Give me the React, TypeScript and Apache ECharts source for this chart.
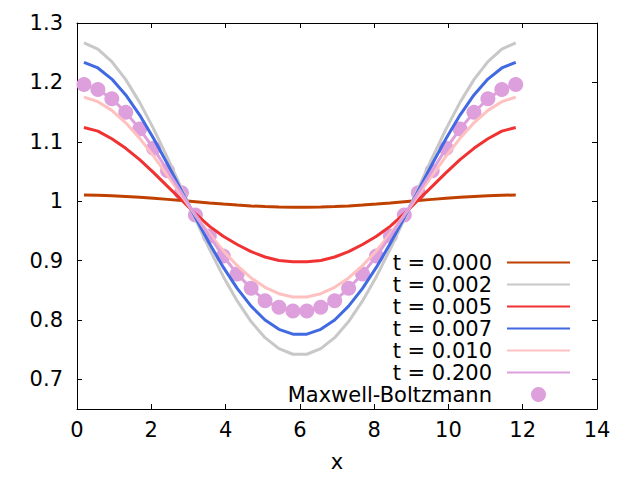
import React, { useEffect, useRef } from "react";
import * as echarts from "echarts";

// x positions of the samples
const xs = [
  0.1875, 0.5625, 0.9375, 1.3125, 1.6875, 2.0625, 2.4375, 2.8125,
  3.1875, 3.5625, 3.9375, 4.3125, 4.6875, 5.0625, 5.4375, 5.8125,
  6.1875, 6.5625, 6.9375, 7.3125, 7.6875, 8.0625, 8.4375, 8.8125,
  9.1875, 9.5625, 9.9375, 10.3125, 10.6875, 11.0625, 11.4375, 11.8125,
];

const t000 = [
  1.0103, 1.01, 1.0092, 1.008, 1.0066, 1.0049, 1.003, 1.001,
  0.999, 0.997, 0.9951, 0.9934, 0.992, 0.9908, 0.99, 0.9897,
  0.9897, 0.99, 0.9908, 0.992, 0.9934, 0.9951, 0.997, 0.999,
  1.001, 1.003, 1.0049, 1.0066, 1.008, 1.0092, 1.01, 1.0103,
];
const t002 = [
  1.2666, 1.2559, 1.2349, 1.2046, 1.1663, 1.1217, 1.0728, 1.0214,
  0.9698, 0.9198, 0.8733, 0.832, 0.7972, 0.7701, 0.7516, 0.7422,
  0.7422, 0.7516, 0.7701, 0.7972, 0.832, 0.8733, 0.9198, 0.9698,
  1.0214, 1.0728, 1.1217, 1.1663, 1.2046, 1.2349, 1.2559, 1.2666,
];
const t005 = [
  1.124, 1.118, 1.105, 1.089, 1.07, 1.048, 1.025, 1.002,
  0.979, 0.958, 0.941, 0.927, 0.915, 0.906, 0.9, 0.898,
  0.898, 0.9, 0.906, 0.915, 0.927, 0.941, 0.958, 0.979,
  1.002, 1.025, 1.048, 1.07, 1.089, 1.105, 1.118, 1.124,
];
const t007 = [
  1.2338, 1.2243, 1.2056, 1.1788, 1.1449, 1.1056, 1.0626, 1.0176,
  0.9726, 0.9291, 0.8888, 0.8531, 0.8232, 0.7999, 0.7841, 0.776,
  0.776, 0.7841, 0.7999, 0.8232, 0.8531, 0.8888, 0.9291, 0.9726,
  1.0176, 1.0626, 1.1056, 1.1449, 1.1788, 1.2056, 1.2243, 1.2338,
];
const t010 = [
  1.1751, 1.1675, 1.1529, 1.132, 1.1058, 1.0758, 1.0432, 1.0097,
  0.9766, 0.9451, 0.9164, 0.8914, 0.8707, 0.8549, 0.8441, 0.8387,
  0.8387, 0.8441, 0.8549, 0.8707, 0.8914, 0.9164, 0.9451, 0.9766,
  1.0097, 1.0432, 1.0758, 1.1058, 1.132, 1.1529, 1.1675, 1.1751,
];
const t200 = [
  1.1966, 1.1882, 1.1724, 1.1495, 1.1214, 1.0889, 1.0512, 1.0141,
  0.9765, 0.9412, 0.9076, 0.8773, 0.8532, 0.8323, 0.8212, 0.815,
  0.815, 0.8212, 0.8323, 0.8532, 0.8773, 0.9076, 0.9412, 0.9765,
  1.0141, 1.0512, 1.0889, 1.1214, 1.1495, 1.1724, 1.1882, 1.1966,
];
const maxwell = [
  1.1966, 1.1882, 1.1724, 1.1495, 1.1214, 1.0889, 1.0512, 1.0141,
  0.9765, 0.9412, 0.9076, 0.8773, 0.8532, 0.8323, 0.8212, 0.815,
  0.815, 0.8212, 0.8323, 0.8532, 0.8773, 0.9076, 0.9412, 0.9765,
  1.0141, 1.0512, 1.0889, 1.1214, 1.1495, 1.1724, 1.1882, 1.1966,
];

const lineNames = ["t = 0.000", "t = 0.002", "t = 0.005", "t = 0.007", "t = 0.010", "t = 0.200"];
const lineValues = [t000, t002, t005, t007, t010, t200];
const lineColors = ["#c04000", "#c8c8c8", "#f03232", "#4169e1", "#ffc0c0", "#dda0dd"];
const mbName = "Maxwell-Boltzmann";
const mbColor = "#dda0dd";

const FONT = "DejaVu Sans";
const FS = 21;

export default function App() {
  const ref = useRef<HTMLDivElement>(null);
  useEffect(() => {
    if (!ref.current) return;
    const chart = echarts.init(ref.current, null, { renderer: "svg" });
    const zip = (ys: number[]) => xs.map((x, i) => [x, ys[i]]);
    const axisCommon = {
      type: "value",
      axisLine: { show: true, onZero: false, lineStyle: { color: "#000", width: 1 } },
      axisTick: { show: true, inside: true, length: 5, lineStyle: { color: "#000", width: 1 } },
      splitLine: { show: false },
    };
    const series: any[] = lineNames.map((name, k) => ({
      name,
      type: "line",
      data: zip(lineValues[k]),
      symbol: "none",
      showSymbol: false,
      lineStyle: { color: lineColors[k], width: 3 },
      itemStyle: { color: lineColors[k] },
      xAxisIndex: 0,
      yAxisIndex: 0,
    }));
    series.push({
      name: mbName,
      type: "scatter",
      data: zip(maxwell),
      symbol: "circle",
      symbolSize: 15,
      itemStyle: { color: mbColor, opacity: 1 },
      xAxisIndex: 0,
      yAxisIndex: 0,
    });
    chart.setOption({
      animation: false,
      backgroundColor: "#fff",
      grid: { left: 77, right: 43, top: 23, bottom: 71 },
      xAxis: [
        {
          ...axisCommon,
          min: 0,
          max: 14,
          interval: 2,
          position: "bottom",
          axisLabel: { margin: 10, fontSize: FS, fontFamily: FONT, color: "#000" },
          name: "x",
          nameLocation: "middle",
          nameGap: 42,
          nameTextStyle: { fontSize: FS, fontFamily: FONT, color: "#000" },
        },
        {
          ...axisCommon,
          min: 0,
          max: 14,
          interval: 2,
          position: "top",
          axisLabel: { show: false },
        },
      ],
      yAxis: [
        {
          ...axisCommon,
          min: 0.65,
          max: 1.3,
          splitNumber: 6,
          position: "left",
          axisLabel: {
            margin: 14,
            fontSize: FS,
            fontFamily: FONT,
            color: "#000",
            showMinLabel: false,
          },
        },
        {
          ...axisCommon,
          min: 0.65,
          max: 1.3,
          splitNumber: 6,
          position: "right",
          axisLabel: { show: false },
        },
      ],
      legend: {
        orient: "vertical",
        align: "right",
        right: 69,
        top: 252,
        padding: 0,
        itemWidth: 63,
        itemHeight: 15,
        itemGap: 1,
        textStyle: {
          fontSize: FS,
          fontFamily: FONT,
          color: "#000",
          padding: [0, 10, 0, 0],
        },
        data: [
          ...lineNames.map((n) => ({ name: n, itemStyle: { opacity: 0 } })),
          { name: mbName, icon: "circle" },
        ],
      },
      series,
    });
    return () => chart.dispose();
  }, []);
  return (
    <div
      ref={ref}
      style={{ position: "fixed", left: 0, top: 0, width: 640, height: 480, background: "#fff" }}
    />
  );
}
